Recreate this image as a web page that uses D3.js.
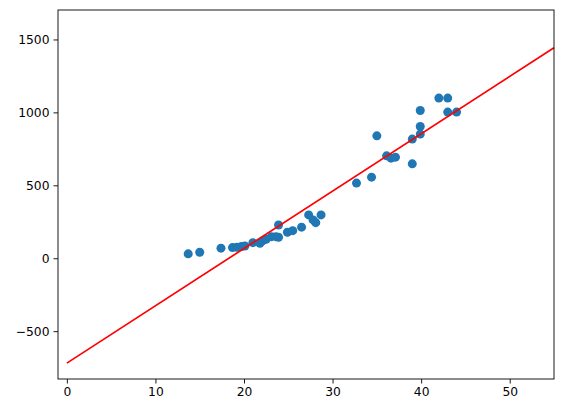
<!DOCTYPE html>
<html>
<head>
<meta charset="utf-8">
<script src="https://cdn.jsdelivr.net/npm/d3@7"></script>
<style>
  body { margin: 0; background: #fff; }
  text { font-family: "DejaVu Sans", sans-serif; }
</style>
</head>
<body>
<svg id="chart"></svg>
<script>
// scatter data
var xs = [13.7, 15.0, 17.4, 18.7, 19.2, 19.7, 20.1, 21.0, 21.8, 22.1, 22.5, 23.1, 23.6, 23.9, 23.9,
          24.9, 25.5, 26.5, 27.3, 27.8, 28.1, 28.7,
          32.7, 34.4, 35.0, 36.1, 36.6, 37.1, 39.0, 39.0, 39.9, 39.9, 39.9, 42.0, 43.0, 43.0, 44.0];
var ys = [30, 41, 69, 73, 75, 80, 84, 107, 103, 119, 130, 148, 148, 228, 144,
          178, 189, 213, 297, 263, 244, 297,
          515, 556, 839, 702, 686, 693, 647, 817, 851, 903, 1013, 1098, 1098, 1002, 1002];
// fitted line ends
var lineX = [0, 55];
var lineY = [-719, 1443];
var xTicks = [0, 10, 20, 30, 40, 50];
var yTicks = [-500, 0, 500, 1000, 1500];

var width = 563, height = 413;
var margin = {top: 10, right: 9, bottom: 34, left: 58};

var svg = d3.select("#chart")
    .attr("width", width)
    .attr("height", height);

var x = d3.scaleLinear()
    .domain([-1, 55])
    .range([margin.left, width - margin.right]);

var y = d3.scaleLinear()
    .domain([-828, 1702])
    .range([height - margin.bottom, margin.top]);

var fmt = d3.format("d");

var xAxis = svg.append("g")
    .attr("transform", "translate(0," + (height - margin.bottom) + ")")
    .call(d3.axisBottom(x).tickValues(xTicks).tickFormat(fmt).tickSize(4.5).tickPadding(4));

var yAxis = svg.append("g")
    .attr("transform", "translate(" + margin.left + ",0)")
    .call(d3.axisLeft(y).tickValues(yTicks).tickFormat(fmt).tickSize(4.5).tickPadding(4));

[xAxis, yAxis].forEach(function(a) {
    a.select(".domain").remove();
    a.selectAll("text").attr("font-size", "12.3px").attr("fill", "#000")
        .attr("font-family", "DejaVu Sans, sans-serif");
    a.selectAll("line").attr("stroke", "#000").attr("stroke-width", 0.9);
});

var pts = xs.map(function(d, i) { return {x: d, y: ys[i]}; });

svg.append("g")
    .selectAll("circle")
    .data(pts)
    .enter().append("circle")
    .attr("cx", function(d) { return x(d.x); })
    .attr("cy", function(d) { return y(d.y); })
    .attr("r", 4.5)
    .attr("fill", "#1f77b4");

var line = d3.line()
    .x(function(d) { return x(d[0]); })
    .y(function(d) { return y(d[1]); });

svg.append("path")
    .datum(lineX.map(function(d, i) { return [d, lineY[i]]; }))
    .attr("d", line)
    .attr("fill", "none")
    .attr("stroke", "red")
    .attr("stroke-width", 1.7);

// frame
svg.append("rect")
    .attr("x", margin.left)
    .attr("y", margin.top)
    .attr("width", width - margin.left - margin.right)
    .attr("height", height - margin.top - margin.bottom)
    .attr("fill", "none")
    .attr("stroke", "#000")
    .attr("stroke-width", 0.9);
</script>
</body>
</html>
